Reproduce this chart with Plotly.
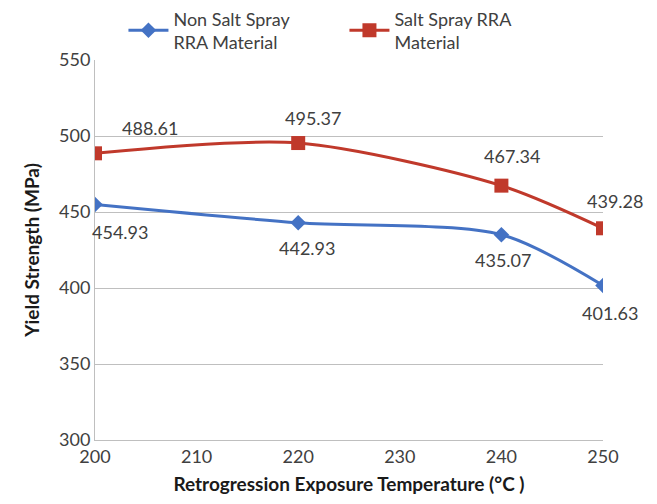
import plotly.graph_objects as go

temps = [200, 220, 240, 250]
non_salt = [454.93, 442.93, 435.07, 401.63]
salt = [488.61, 495.37, 467.34, 439.28]

BLUE = "#4472C4"
RED = "#C0392B"
TEXT = "#404040"
GRID = "#BFBFBF"
FONT = "Lato, 'Open Sans', sans-serif"

fig = go.Figure()
fig.add_trace(go.Scatter(
    x=temps, y=non_salt, mode="lines+markers",
    name="Non Salt Spray<br>RRA Material",
    line=dict(color=BLUE, width=3, shape="spline", smoothing=0.8),
    marker=dict(symbol="diamond", size=12, color=BLUE),
))
fig.add_trace(go.Scatter(
    x=temps, y=salt, mode="lines+markers",
    name="Salt Spray RRA<br>Material",
    line=dict(color=RED, width=3, shape="spline", smoothing=0.8),
    marker=dict(symbol="square", size=14, color=RED),
))

# value labels: red above-right, blue below
red_shift = [(55, 25), (15, 25), (11, 30), (12, 27)]
blue_shift = [(25, -27), (9, -25), (2, -25), (7, -27)]
for x, v, (dx, dy) in zip(temps, salt, red_shift):
    fig.add_annotation(x=x, y=v, text=f"{v:.2f}", showarrow=False,
                       xshift=dx, yshift=dy, font=dict(size=18, color=TEXT))
for x, v, (dx, dy) in zip(temps, non_salt, blue_shift):
    fig.add_annotation(x=x, y=v, text=f"{v:.2f}", showarrow=False,
                       xshift=dx, yshift=dy, font=dict(size=18, color=TEXT))

# page body adds 8px offset, so the canvas is shrunk by that amount
fig.update_layout(
    width=649, height=496,
    paper_bgcolor="white", plot_bgcolor="white",
    font=dict(family=FONT, color=TEXT, size=18),
    margin=dict(l=87, r=54, t=52, b=64, autoexpand=False),
    legend=dict(orientation="h", x=0.056, y=1.157, xanchor="left", yanchor="top",
                font=dict(size=18, color=TEXT), itemwidth=40,
                entrywidth=166, entrywidthmode="pixels"),
)
fig.update_xaxes(
    range=[200, 250], dtick=10, showgrid=False, zeroline=False,
    showline=True, linecolor=GRID, linewidth=1, ticks="",
    tickfont=dict(size=18, color=TEXT), automargin=False,
    title=dict(text="<b>Retrogression Exposure Temperature (°C )</b>",
               font=dict(size=19, color="#1a1a1a"), standoff=12),
)
fig.update_yaxes(
    range=[300, 550], dtick=50, showgrid=True, gridcolor=GRID, zeroline=False,
    showline=True, linecolor=GRID, linewidth=1, ticks="",
    tickfont=dict(size=18, color=TEXT), automargin=False,
    title=dict(text="<b>Yield Strength (MPa)</b>",
               font=dict(size=19, color="#1a1a1a"), standoff=14),
)

fig.write_html("out.html")
